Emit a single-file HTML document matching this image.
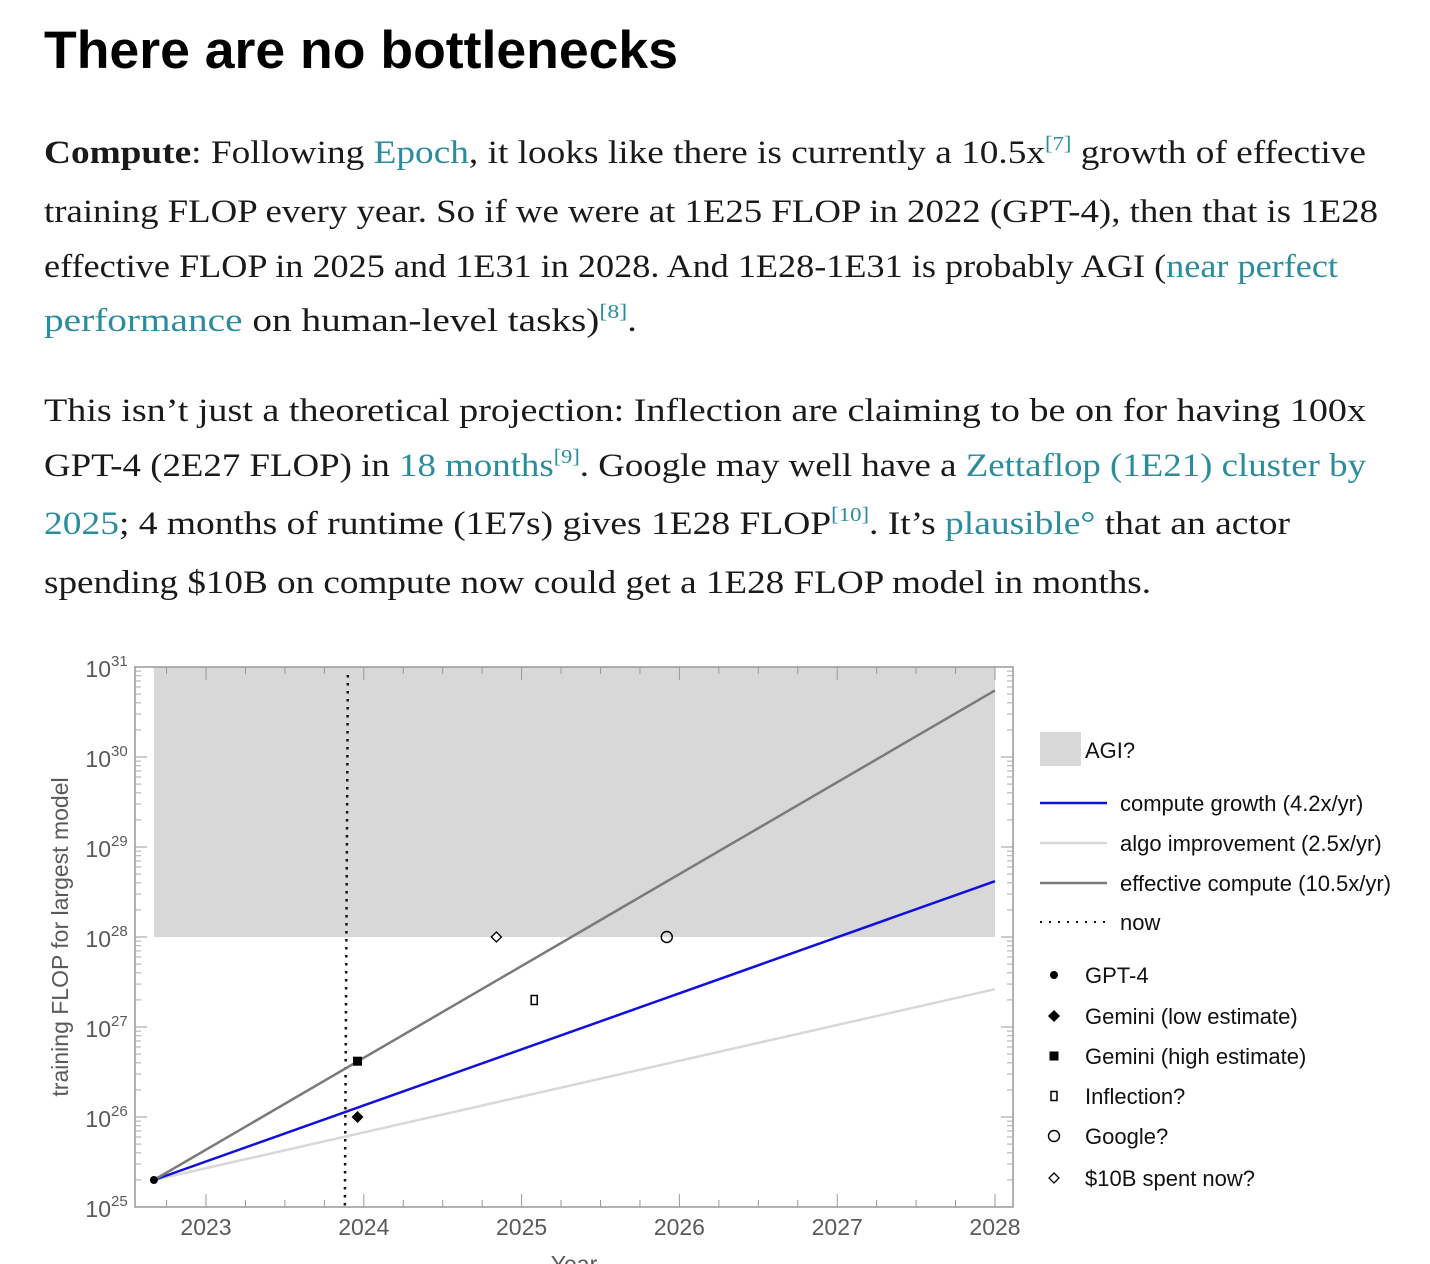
<!DOCTYPE html>
<html><head><meta charset="utf-8">
<style>
body{margin:0;width:1430px;height:1264px;overflow:hidden;background:#fff;position:relative;font-family:"Liberation Serif",serif;color:#1a1a1a}
h1{position:absolute;left:44px;top:20px;margin:0;font:bold 53px "Liberation Sans",sans-serif;color:#000}
.ln{position:absolute;left:44px;white-space:nowrap;font-size:33px;transform-origin:0 0}
a{color:#2b8c9e;text-decoration:none}
sup{font-size:20px;color:#2b8c9e;vertical-align:0;position:relative;top:-13px}
svg{position:absolute;left:0;top:0}
svg text{font-family:"Liberation Sans",sans-serif}
</style></head><body>
<h1>There are no bottlenecks</h1>
<div class="ln" data-w="1322" style="top:135px"><b>Compute</b>: Following <a href="#">Epoch</a>, it looks like there is currently a 10.5x<sup>[7]</sup> growth of effective</div>
<div class="ln" data-w="1334" style="top:194px">training FLOP every year. So if we were at 1E25 FLOP in 2022 (GPT-4), then that is 1E28</div>
<div class="ln" data-w="1294" style="top:249px">effective FLOP in 2025 and 1E31 in 2028. And 1E28-1E31 is probably AGI (<a href="#">near perfect</a></div>
<div class="ln" data-w="593" style="top:303px"><a href="#">performance</a> on human-level tasks)<sup>[8]</sup>.</div>
<div class="ln" data-w="1322" style="top:393px">This isn’t just a theoretical projection: Inflection are claiming to be on for having 100x</div>
<div class="ln" data-w="1322" style="top:448px">GPT-4 (2E27 FLOP) in <a href="#">18 months</a><sup>[9]</sup>. Google may well have a <a href="#">Zettaflop (1E21) cluster by</a></div>
<div class="ln" data-w="1246" style="top:506px"><a href="#">2025</a>; 4 months of runtime (1E7s) gives 1E28 FLOP<sup>[10]</sup>. It’s <a href="#">plausible°</a> that an actor</div>
<div class="ln" data-w="1107" style="top:565px">spending $10B on compute now could get a 1E28 FLOP model in months.</div>

<svg id="chart" width="1430" height="1264"></svg>
<script>
document.querySelectorAll('.ln').forEach(function(d){var w=d.getBoundingClientRect().width;var t=+d.getAttribute('data-w');d.style.transform='scaleX('+(t/w)+')';});
(function(){var h=document.querySelector('h1');var w=h.getBoundingClientRect().width;h.style.transformOrigin='0 0';h.style.transform='scaleX('+(634/w)+')';})();

const yearTicks=[2023,2024,2025,2026,2027,2028];
const decades=[25,26,27,28,29,30,31];
const startYear=2022.67, startLog=25.3;
const seriesNames=['compute growth (4.2x/yr)','algo improvement (2.5x/yr)','effective compute (10.5x/yr)'];
const seriesEndLog=[28.62,27.42,30.74];
const seriesColors=['#1010dd','#d8d8d8','#7a7a7a'];
const agiLow=28, agiHigh=31;
const nowYear=2023.88;
const pointNames=['GPT-4','Gemini (low estimate)','Gemini (high estimate)','Inflection?','Google?','$10B spent now?'];
const pointYears=[2022.67,2023.96,2023.96,2025.08,2025.92,2024.84];
const pointLogs=[25.3,26.0,26.62,27.3,28.0,28.0];
const pointShapes=['dot','diamond','square','rect','circle','odiamond'];

const X=y=>206+(y-2023)*157.8;
const Y=l=>1207-(l-25)*90;
const NS='http://www.w3.org/2000/svg';
const svg=document.getElementById('chart');
function mk(t,a,p){const e=document.createElementNS(NS,t);for(const k in a)e.setAttribute(k,a[k]);(p||svg).appendChild(e);return e;}

const L=135,R=1013,T=Y(31),B=Y(25);
let e=mk('rect',{x:X(startYear),y:Y(agiHigh),width:X(2028)-X(startYear),height:Y(agiLow)-Y(agiHigh),fill:'#d8d8d8'});


e=mk('rect',{x:L,y:T,width:R-L,height:B-T,fill:'none',stroke:'#999','stroke-width':1.5});


for(let y=2022.75;y<=2028.05;y+=0.25){const major=Math.abs(y-Math.round(y))<0.01;const len=major?13:7;
 mk('line',{x1:X(y),x2:X(y),y1:B,y2:B-len,stroke:'#999'});mk('line',{x1:X(y),x2:X(y),y1:T,y2:T+len,stroke:'#999'});}
yearTicks.forEach(function(y){e=mk('text',{x:X(y),y:1235,'text-anchor':'middle','font-size':23,fill:'#5a5a5a'});e.textContent=y;
 
 });
decades.forEach(function(d){mk('line',{x1:L,x2:L+12,y1:Y(d),y2:Y(d),stroke:'#999'});mk('line',{x1:R,x2:R-12,y1:Y(d),y2:Y(d),stroke:'#999'});
 if(d<31)for(let m=2;m<10;m++){const yy=Y(d+Math.log10(m));mk('line',{x1:L,x2:L+6,y1:yy,y2:yy,stroke:'#aaa'});mk('line',{x1:R,x2:R-6,y1:yy,y2:yy,stroke:'#aaa'});}
 e=mk('text',{x:111,y:Y(d)+10,'text-anchor':'end','font-size':23,fill:'#5a5a5a'});e.textContent='10';
 
 
 const s=mk('text',{x:111,y:Y(d)-1,'font-size':15,fill:'#5a5a5a'});s.textContent=d;});
e=mk('text',{x:0,y:0,'font-size':23,fill:'#5a5a5a','text-anchor':'middle',transform:'translate(68,937) rotate(-90)'});e.textContent='training FLOP for largest model';


e=mk('text',{x:574,y:1272,'font-size':23,fill:'#5a5a5a','text-anchor':'middle'});e.textContent='Year';


e=mk('line',{x1:X(nowYear)+3,x2:X(nowYear),y1:T+8,y2:B,stroke:'#111','stroke-width':2.5,'stroke-dasharray':'2.5 5.5'});


[1,0,2].forEach(function(i){e=mk('line',{x1:X(startYear),y1:Y(startLog),x2:X(2028),y2:Y(seriesEndLog[i]),stroke:seriesColors[i],'stroke-width':2.5});
 
 });
function marker(shape,cx,cy){
 if(shape==='dot')return mk('circle',{cx:cx,cy:cy,r:4,fill:'#000'});
 if(shape==='diamond')return mk('polygon',{points:[cx,cy-6,cx+6,cy,cx,cy+6,cx-6,cy].join(' '),fill:'#000'});
 if(shape==='square')return mk('rect',{x:cx-4.5,y:cy-4.5,width:9,height:9,fill:'#000'});
 if(shape==='rect')return mk('rect',{x:cx-3,y:cy-4.5,width:6,height:9,fill:'#fff',stroke:'#000','stroke-width':1.5});
 if(shape==='circle')return mk('circle',{cx:cx,cy:cy,r:5.5,fill:'none',stroke:'#000','stroke-width':1.4});
 return mk('polygon',{points:[cx,cy-5,cx+5,cy,cx,cy+5,cx-5,cy].join(' '),fill:'#fff',stroke:'#000','stroke-width':1.3});}
pointNames.forEach(function(n,i){e=marker(pointShapes[i],X(pointYears[i]),Y(pointLogs[i]));
 
 });
e=mk('rect',{x:1040,y:732,width:41,height:34,fill:'#d8d8d8'});


e=mk('text',{x:1085,y:758,'font-size':22,fill:'#111'});e.textContent='AGI?';


const lgY=[803,843,883];
seriesNames.forEach(function(n,i){mk('line',{x1:1040,x2:1107,y1:lgY[i],y2:lgY[i],stroke:seriesColors[i],'stroke-width':2.5});
 e=mk('text',{x:1120,y:lgY[i]+8,'font-size':22,fill:'#111'});e.textContent=n;
 
 });
mk('line',{x1:1040,x2:1105,y1:922,y2:922,stroke:'#111','stroke-width':2,'stroke-dasharray':'2 7'});
e=mk('text',{x:1120,y:930,'font-size':22,fill:'#111'});e.textContent='now';


const plY=[975,1016,1056,1096,1136,1178];
pointNames.forEach(function(n,i){marker(pointShapes[i],1054,plY[i]);
 e=mk('text',{x:1085,y:plY[i]+8,'font-size':22,fill:'#111'});e.textContent=n;
 
 });
</script>
</body></html>
